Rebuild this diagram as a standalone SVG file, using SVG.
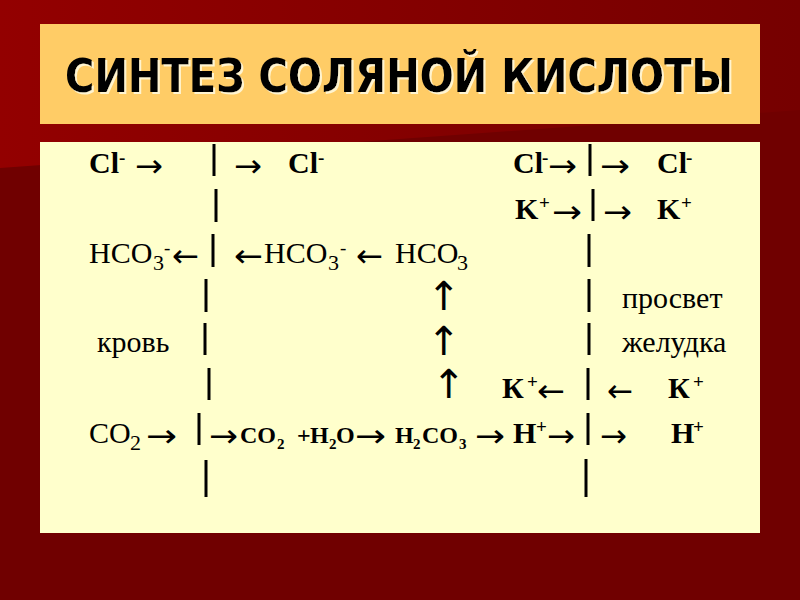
<svg xmlns="http://www.w3.org/2000/svg" width="800" height="600" viewBox="0 0 800 600">
<defs>
<linearGradient id="bgTop" x1="0" y1="0" x2="1" y2="0">
<stop offset="0" stop-color="#930000"/>
<stop offset="1" stop-color="#760000"/>
</linearGradient>
<filter id="shadow" x="-5%" y="-20%" width="110%" height="140%">
<feOffset in="SourceAlpha" dx="2" dy="2" result="off"/>
<feFlood flood-color="#FFF4D0"/>
<feComposite in2="off" operator="in" result="sh"/>
<feMerge><feMergeNode in="sh"/><feMergeNode in="SourceGraphic"/></feMerge>
</filter>
</defs>
<style>
.t{font-family:"Liberation Serif","Times New Roman",serif;font-size:30px;fill:#000}
.b{font-weight:bold}
.m{font-size:24px}
.a{font-family:"DejaVu Sans",sans-serif;font-size:32px;font-weight:normal}
.up{font-size:40px}
.sup{font-size:19px}
.sub{font-size:22px}
.sb{font-size:15px}
.bar{stroke:#000;stroke-width:3}
.title{font-family:"DejaVu Sans Condensed","DejaVu Sans",Verdana,sans-serif;font-stretch:condensed;font-weight:bold;font-size:46px}
</style>
<rect width="800" height="600" fill="#700000"/>
<polygon points="0,0 800,0 800,110 0,168" fill="url(#bgTop)"/>
<g id="title-box">
<rect x="40" y="24" width="720" height="100" fill="#FFCC66"/>
<text class="title" x="65" y="92" textLength="668" lengthAdjust="spacingAndGlyphs" fill="#000" filter="url(#shadow)">СИНТЕЗ СОЛЯНОЙ КИСЛОТЫ</text>
</g>
<g id="body-box">
<rect x="40" y="142" width="720" height="391" fill="#FFFFCC"/>
</g>
<g id="membranes">
<line class="bar" x1="214" y1="144" x2="214" y2="176"/>
<line class="bar" x1="216" y1="189" x2="216" y2="222"/>
<line class="bar" x1="213" y1="234" x2="213" y2="267"/>
<line class="bar" x1="206" y1="279" x2="206" y2="312"/>
<line class="bar" x1="205" y1="323" x2="205" y2="355"/>
<line class="bar" x1="209" y1="368" x2="209" y2="400"/>
<line class="bar" x1="199" y1="413" x2="199" y2="445"/>
<line class="bar" x1="206" y1="460" x2="206" y2="497"/>
<line class="bar" x1="590" y1="144" x2="590" y2="176"/>
<line class="bar" x1="593" y1="189" x2="593" y2="221"/>
<line class="bar" x1="589" y1="234" x2="589" y2="267"/>
<line class="bar" x1="589" y1="279" x2="589" y2="312"/>
<line class="bar" x1="589" y1="323" x2="589" y2="355"/>
<line class="bar" x1="588" y1="368" x2="588" y2="400"/>
<line class="bar" x1="588" y1="413" x2="588" y2="445"/>
<line class="bar" x1="586" y1="459" x2="586" y2="497"/>
</g>
<g id="row1">
<text class="t b" x="89" y="173">Cl<tspan class="sup" x="119" y="164">-</tspan></text>
<text class="t a" x="135" y="177" textLength="28" lengthAdjust="spacingAndGlyphs">→</text>
<text class="t a" x="234" y="177" textLength="28" lengthAdjust="spacingAndGlyphs">→</text>
<text class="t b" x="288" y="173">Cl<tspan class="sup" x="318" y="164">-</tspan></text>
<text class="t b" x="513" y="173">Cl<tspan class="sup" x="542" y="164">-</tspan></text>
<text class="t a" x="548" y="177" textLength="29" lengthAdjust="spacingAndGlyphs">→</text>
<text class="t a" x="600" y="177" textLength="30" lengthAdjust="spacingAndGlyphs">→</text>
<text class="t b" x="657" y="173">Cl<tspan class="sup" x="686" y="164">-</tspan></text>
</g>
<g id="row2">
<text class="t b" x="515" y="219">K<tspan class="sup" x="539" y="209">+</tspan></text>
<text class="t a" x="552" y="223" textLength="30" lengthAdjust="spacingAndGlyphs">→</text>
<text class="t a" x="603" y="223" textLength="29" lengthAdjust="spacingAndGlyphs">→</text>
<text class="t b" x="657" y="219">K<tspan class="sup" x="681" y="209">+</tspan></text>
</g>
<g id="row3">
<text class="t" x="89" y="263">HCO<tspan class="sub" x="153" y="270">3</tspan><tspan class="sup" x="164" y="254">-</tspan></text>
<text class="t a" x="172" y="267" textLength="27" lengthAdjust="spacingAndGlyphs">←</text>
<text class="t a" x="234" y="267" textLength="29" lengthAdjust="spacingAndGlyphs">←</text>
<text class="t" x="264" y="263">HCO<tspan class="sub" x="328" y="270">3</tspan><tspan class="sup" x="340" y="254">-</tspan></text>
<text class="t a" x="356" y="267" textLength="27" lengthAdjust="spacingAndGlyphs">←</text>
<text class="t" x="395" y="263">HCO<tspan class="sub" x="457" y="270">3</tspan></text>
</g>
<g id="row4">
<text class="t a up" x="427" y="310">↑</text>
<text class="t" x="622" y="308">просвет</text>
</g>
<g id="row5">
<text class="t a up" x="427" y="355">↑</text>
<text class="t" x="622" y="352">желудка</text>
<text class="t" x="97" y="352">кровь</text>
</g>
<g id="row6">
<text class="t a up" x="432" y="398">↑</text>
<text class="t b" x="502" y="398">К<tspan class="sup" x="527" y="388">+</tspan></text>
<text class="t a" x="537" y="402" textLength="28" lengthAdjust="spacingAndGlyphs">←</text>
<text class="t a" x="607" y="402" textLength="26" lengthAdjust="spacingAndGlyphs">←</text>
<text class="t b" x="668" y="398">К<tspan class="sup" x="693" y="388">+</tspan></text>
</g>
<g id="row7">
<text class="t" x="89" y="443">CO<tspan class="sub" x="130" y="450">2</tspan></text>
<text class="t a" x="146" y="447" textLength="31" lengthAdjust="spacingAndGlyphs">→</text>
<text class="t a" x="209" y="447" textLength="29" lengthAdjust="spacingAndGlyphs" font-weight="bold">→</text>
<text class="t b m" x="240" y="443">CO<tspan class="sb" x="277" y="449">2</tspan><tspan x="297" y="443">+</tspan><tspan x="310" y="443">H</tspan><tspan class="sb" x="329" y="449">2</tspan><tspan x="336" y="443">O</tspan></text>
<text class="t a" x="355" y="447" textLength="31" lengthAdjust="spacingAndGlyphs" font-weight="bold">→</text>
<text class="t b m" x="395" y="443">H<tspan class="sb" x="413" y="449">2</tspan><tspan x="422" y="443">CO</tspan><tspan class="sb" x="459" y="449">3</tspan></text>
<text class="t a" x="475" y="447" textLength="30" lengthAdjust="spacingAndGlyphs">→</text>
<text class="t b" x="513" y="443">H<tspan class="sup" x="536" y="433">+</tspan></text>
<text class="t a" x="547" y="447" textLength="28" lengthAdjust="spacingAndGlyphs">→</text>
<text class="t a" x="600" y="447" textLength="27" lengthAdjust="spacingAndGlyphs">→</text>
<text class="t b" x="671" y="443">H<tspan class="sup" x="693" y="433">+</tspan></text>
</g>
</svg>
